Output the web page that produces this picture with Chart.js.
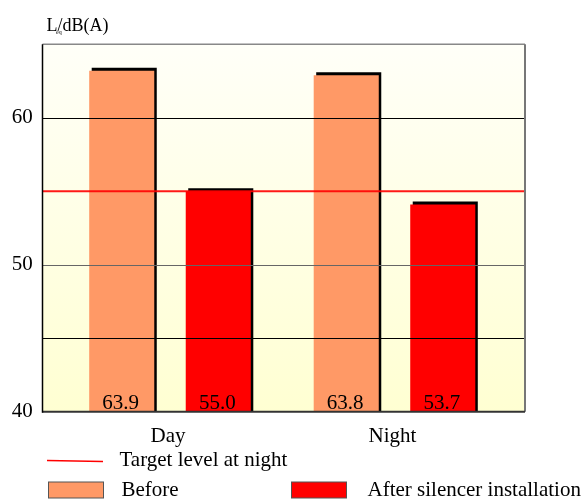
<!DOCTYPE html>
<html><head><meta charset="utf-8">
<script src="https://cdn.jsdelivr.net/npm/chart.js@4/dist/chart.umd.min.js"></script>
<style>html,body{margin:0;padding:0;background:#fff;}canvas{display:block;}</style>
</head><body>
<canvas id="c" width="584" height="500"></canvas>
<script>
// ---- data ----
const categories = ['Day', 'Night'];
const seriesNames = ['Before', 'After silencer installation'];
const beforeValues = [63.2, 62.9];
const afterValues = [55.0, 54.1];
const beforeLabels = ['63.9', '63.8'];
const afterLabels = ['55.0', '53.7'];
const targetLevel = 55;
const targetName = 'Target level at night';
const yTickLabels = [40, 50, 60];
const yGridValues = [45, 50, 60];
const axisTitle = ['L', 'eq', '/dB(A)'];

// ---- styles ----
const FONT = '"Liberation Serif", "Times New Roman", serif';
const ORANGE = '#ff9966';
const RED = '#ff0000';
const FRAME_LEFT = 42.5, FRAME_RIGHT = 525;

const decor = {
  id: 'decor',
  beforeDatasetsDraw(chart) {
    const {ctx, chartArea: a} = chart;
    const g = ctx.createLinearGradient(0, a.top, 0, a.bottom);
    g.addColorStop(0, '#fffff8');
    g.addColorStop(1, '#ffffd2');
    ctx.save();
    ctx.fillStyle = g;
    ctx.fillRect(FRAME_LEFT, a.top, FRAME_RIGHT - FRAME_LEFT, a.bottom - a.top);
    ctx.restore();
  },
  beforeDatasetDraw(chart) {
    const ctx = chart.ctx;
    ctx.save();
    ctx.shadowColor = '#000';
    ctx.shadowBlur = 0;
    ctx.shadowOffsetX = 2.5;
    ctx.shadowOffsetY = -3;
  },
  afterDatasetDraw(chart) { chart.ctx.restore(); },
  afterDatasetsDraw(chart) {
    const {ctx, chartArea: a, scales: {y}} = chart;
    ctx.save();
    // grid lines
    yGridValues.forEach(v => {
      const py = Math.round(y.getPixelForValue(v)) + 0.5;
      ctx.strokeStyle = v === 50 ? '#666' : '#000';
      ctx.lineWidth = 1;
      ctx.beginPath(); ctx.moveTo(FRAME_LEFT, py); ctx.lineTo(FRAME_RIGHT, py); ctx.stroke();
    });
    // target line
    const ty = y.getPixelForValue(targetLevel);
    ctx.strokeStyle = 'rgba(255,0,0,0.9)';
    ctx.lineWidth = 2.2;
    ctx.beginPath(); ctx.moveTo(FRAME_LEFT, ty); ctx.lineTo(FRAME_RIGHT, ty); ctx.stroke();
    // frame
    ctx.lineWidth = 1.5;
    ctx.strokeStyle = '#888';
    ctx.beginPath(); ctx.moveTo(FRAME_LEFT, a.top); ctx.lineTo(FRAME_RIGHT, a.top); ctx.stroke();
    ctx.lineWidth = 2;
    ctx.strokeStyle = '#777';
    ctx.beginPath(); ctx.moveTo(FRAME_RIGHT, a.top); ctx.lineTo(FRAME_RIGHT, a.bottom); ctx.stroke();
    ctx.strokeStyle = '#333';
    ctx.beginPath(); ctx.moveTo(FRAME_LEFT, a.bottom); ctx.lineTo(FRAME_RIGHT, a.bottom); ctx.stroke();
    ctx.lineWidth = 1.5;
    ctx.strokeStyle = '#000';
    ctx.beginPath(); ctx.moveTo(FRAME_LEFT, a.top); ctx.lineTo(FRAME_LEFT, a.bottom + 1); ctx.stroke();
    // bar value labels
    ctx.fillStyle = '#000';
    ctx.font = '21px ' + FONT;
    ctx.textAlign = 'center';
    ctx.textBaseline = 'alphabetic';
    const labelSets = [beforeLabels, afterLabels];
    chart.data.datasets.forEach((ds, di) => {
      chart.getDatasetMeta(di).data.forEach((bar, i) => {
        ctx.fillText(labelSets[di][i], bar.x - 1, a.bottom - 2.5);
      });
    });
    ctx.restore();
  },
  afterDraw(chart) {
    const ctx = chart.ctx;
    ctx.save();
    ctx.fillStyle = '#000';
    ctx.textAlign = 'left';
    ctx.textBaseline = 'alphabetic';
    // axis title
    ctx.font = '18px ' + FONT;
    ctx.fillText(axisTitle[0], 46.5, 30.5);
    const wL = ctx.measureText(axisTitle[0]).width;
    ctx.fillText(axisTitle[2], 46.5 + wL, 30.5);
    ctx.font = '6px ' + FONT;
    ctx.fillText(axisTitle[1], 46.5 + wL - 1.5, 33.5);
    // legend
    ctx.font = '21px ' + FONT;
    ctx.strokeStyle = RED;
    ctx.lineWidth = 1.5;
    ctx.beginPath(); ctx.moveTo(47, 460.5); ctx.lineTo(103, 461.5); ctx.stroke();
    ctx.fillText(targetName, 119.5, 466);
    const boxes = [[48.5, ORANGE, 121.5], [291.5, RED, 367.5]];
    boxes.forEach(([bx, col, tx], i) => {
      ctx.fillStyle = col;
      ctx.fillRect(bx, 482, 55, 16);
      ctx.strokeStyle = '#555';
      ctx.lineWidth = 1;
      ctx.strokeRect(bx, 482, 55, 16);
      ctx.fillStyle = '#000';
      ctx.fillText(seriesNames[i], tx, 496);
    });
    ctx.restore();
  }
};

new Chart(document.getElementById('c'), {
  type: 'bar',
  data: {
    labels: categories,
    datasets: [
      {label: seriesNames[0], data: beforeValues, backgroundColor: ORANGE, borderWidth: 0},
      {label: seriesNames[1], data: afterValues, backgroundColor: RED, borderWidth: 0}
    ]
  },
  options: {
    responsive: false,
    animation: false,
    devicePixelRatio: 1,
    categoryPercentage: 0.86,
    barPercentage: 0.674,
    layout: {padding: {left: 0, right: 77.25, top: 44.3, bottom: 38.3}},
    plugins: {legend: {display: false}, tooltip: {enabled: false}},
    scales: {
      x: {
        grid: {display: false, drawTicks: false},
        border: {display: false},
        ticks: {color: '#000', font: {family: FONT, size: 21}, padding: 12, labelOffset: -2},
        afterFit(s) { s.height = 50; }
      },
      y: {
        min: 40, max: 65,
        grid: {display: false, drawTicks: false},
        border: {display: false},
        ticks: {
          stepSize: 5,
          color: '#000',
          font: {family: FONT, size: 21},
          padding: 25,
          callback: v => yTickLabels.includes(v) ? String(v) : ''
        },
        afterFit(s) { s.width = 57.75; }
      }
    }
  },
  plugins: [decor]
});
</script>
</body></html>
